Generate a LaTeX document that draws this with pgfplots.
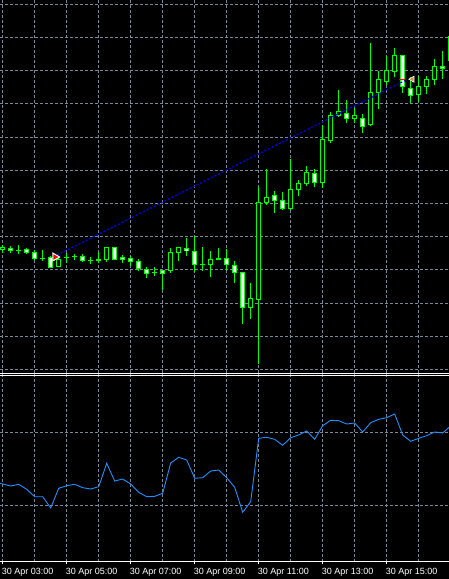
\documentclass[border=0pt]{standalone}
\usepackage{pgfplots}
\usepackage{pgfplotstable}
\usepackage{fontspec}
\setmainfont{Liberation Sans}
\pgfplotsset{compat=1.18}
\definecolor{mtgreen}{HTML}{00FF00}
\definecolor{gridc}{HTML}{778899}
\definecolor{dodger}{HTML}{1E90FF}
\definecolor{closec}{HTML}{D08A48}

% candles: bar index, open, high, low, close (screen rows, smaller = higher price)
\pgfplotstableread{
i O H L C
0 249 245 253 247
1 248 245.5 252.5 250.5
2 250 245 254 250.5
3 249.5 247.5 254 252.5
4 252 249.5 259.5 258.5
5 258 250 260.5 258.5
6 257.5 256 268 267.5
7 266.5 257 267 259
8 257.5 253 262.5 257
9 256.5 253.5 259.5 256
10 256 254 262 260
11 260 257 264 260.5
12 260 251.7 262.7 259.5
13 259.3 247 261.7 247
14 247 247 260 259.3
15 257 255 263 259.7
16 258 256 265.5 261.3
17 261.3 259 270.5 268.7
18 269 267.3 278 273.7
19 272 267.3 275.7 272.3
20 270.7 270 290 273.3
21 270.7 248.3 273.3 252.3
22 252.3 247 260.7 247.3
23 248.3 238.3 255.7 250.7
24 251.3 236 271.7 264.3
25 264.3 247.3 270.7 264
26 264.3 251 276.7 259.3
27 258.7 248 259.5 258.3
28 258.7 249.3 270 264.3
29 265.7 261.3 282.7 272.3
30 272.3 272 324 307.3
31 307.3 283.3 318.7 298.3
32 299.3 186.7 364 202.3
33 202.7 169.3 205 197.3
34 195 191 212.7 200.3
35 200.3 192 210 208.3
36 208.3 159 210 189.3
37 189.3 180 196 183.3
38 183.3 166 185.7 172.3
39 173.3 169.3 186.7 182.7
40 182.3 125 188.3 139.3
41 140 111.7 142.7 115
42 115.3 90 117.5 112
43 113.3 100 122.7 118.3
44 118.3 108.3 123.3 115.3
45 118.3 114 133.3 126.3
46 124.7 43.3 125.7 92.3
47 92.3 71.3 108.7 79.3
48 81.7 56 85 70.3
49 71.3 48.3 76.7 55.3
50 55 55 92.7 86.7
51 88.3 76.7 103.3 95.3
52 94.7 76 102.3 86.3
53 86.7 76 93.7 79.3
54 79.3 59.3 85 66.7
55 66 51 79.3 68.7
56 60 36 62 36
}\candles

\pgfplotstableread{
i V
-1 482.5
0 484.0
1 486.0
2 484.3
3 489.3
4 496.7
5 496.7
6 508.0
7 488.3
8 485.7
9 484.3
10 487.7
11 489.0
12 486.7
13 463.3
14 481.0
15 479.0
16 484.0
17 492.3
18 496.7
19 496.3
20 493.3
21 463.0
22 457.3
23 460.0
24 478.3
25 477.7
26 471.0
27 470.0
28 477.7
29 487.3
30 512.3
31 501.7
32 438.3
33 437.3
34 439.3
35 445.3
36 437.7
37 435.0
38 431.0
39 439.3
40 425.7
41 420.3
42 420.7
43 424.0
44 423.0
45 432.0
46 422.7
47 419.3
48 417.7
49 414.0
50 435.0
51 441.3
52 438.3
53 435.7
54 432.0
55 433.0
56 426.0
}\ind

\pgfplotsset{
  mtgrid/.style={dash pattern=on 3pt off 2pt, gridc, line width=1pt},
  candle/.style={only marks, mark=*, mark size=0pt, mark options={opacity=0},
    error bars/y dir=both, error bars/y explicit, error bars/error mark=none,
    error bars/error bar style={#1}},
}

\begin{document}
\begin{tikzpicture}
\useasboundingbox (0,0) rectangle (449pt,579pt);
\fill[black] (0,0) rectangle (449pt,579pt);

\begin{axis}[
  at={(0pt,579pt)}, anchor=north west,
  scale only axis, width=449pt, height=373.8pt,
  xmin=-0.3375, xmax=55.7875, ymin=0, ymax=373.8, y dir=reverse,
  axis line style={draw=none},
  xtick={0,4,...,52}, xticklabels={},
  ytick={4.3,37.5,70.7,103.9,137.1,170.3,203.5,236.7,269.9,303.1,336.3,369.5},
  yticklabels={},
  major tick length=0pt,
  grid=major, major grid style={mtgrid},
]
% wicks
\addplot[candle={mtgreen, line width=1pt}] table[x=i,
  y expr={(\thisrow{H}+\thisrow{L})/2},
  y error expr={(\thisrow{L}-\thisrow{H})/2}] {\candles};
% body outlines
\addplot[candle={mtgreen, line width=5pt}] table[x=i,
  y expr={(\thisrow{O}+\thisrow{C})/2},
  y error expr={abs(\thisrow{O}-\thisrow{C})/2+0.5}] {\candles};
% bear bodies (white)
\addplot[restrict expr to domain={\thisrow{C}-\thisrow{O}}{1.5:1000},
  candle={white, line width=3pt}] table[x=i,
  y expr={(\thisrow{O}+\thisrow{C})/2},
  y error expr={abs(\thisrow{O}-\thisrow{C})/2-0.5}] {\candles};
% bull bodies (black)
\addplot[restrict expr to domain={\thisrow{O}-\thisrow{C}}{1.5:1000},
  candle={black, line width=3pt}] table[x=i,
  y expr={(\thisrow{O}+\thisrow{C})/2},
  y error expr={abs(\thisrow{O}-\thisrow{C})/2-0.5}] {\candles};
% trade line and markers
\addplot[blue, line width=1.2pt, dash pattern=on 2pt off 2pt] coordinates {(6.8,255) (50.3,80.5)};
\addplot[red, line width=1pt] coordinates {(49.55,79.3) (50.3,79.3)};
\addplot[only marks, mark=triangle*, mark size=4.5pt,
  mark options={rotate=-90, fill=red, draw=white, line width=1pt}] coordinates {(6.55,257)};
\addplot[only marks, mark=triangle*, mark size=3.5pt,
  mark options={rotate=90, fill=closec, draw=white, line width=0.6pt}] coordinates {(51.2,79.2)};
\end{axis}

\begin{axis}[
  at={(0pt,205.2pt)}, anchor=north west,
  scale only axis, width=449pt, height=187.2pt,
  xmin=-0.3375, xmax=55.7875, ymin=373.8, ymax=561, y dir=reverse,
  separate axis lines,
  x axis line style={white, line width=1pt},
  y axis line style={draw=none},
  xtick={0,8,...,48},
  minor xtick={4,12,...,52},
  xticklabels={30 Apr 03:00,30 Apr 05:00,30 Apr 07:00,30 Apr 09:00,30 Apr 11:00,30 Apr 13:00,30 Apr 15:00},
  ytick={432.3,505.3}, yticklabels={},
  grid=both, major grid style={mtgrid}, minor grid style={mtgrid},
  xtick pos=left, tick align=outside,
  major tick length=3pt, minor tick length=0pt,
  x tick style={white, line width=1pt},
  y tick style={draw=none},
  xticklabel style={white, font=\fontsize{9}{10}\selectfont, anchor=north west, inner sep=0pt, xshift=-1pt, yshift=-4pt},
  extra y ticks={375.8}, extra y tick labels={},
  extra y tick style={major grid style={white, solid, line width=1pt}},
]
\addplot[dodger, line width=0.9pt] table[x=i, y=V] {\ind};
\end{axis}
\end{tikzpicture}
\end{document}
